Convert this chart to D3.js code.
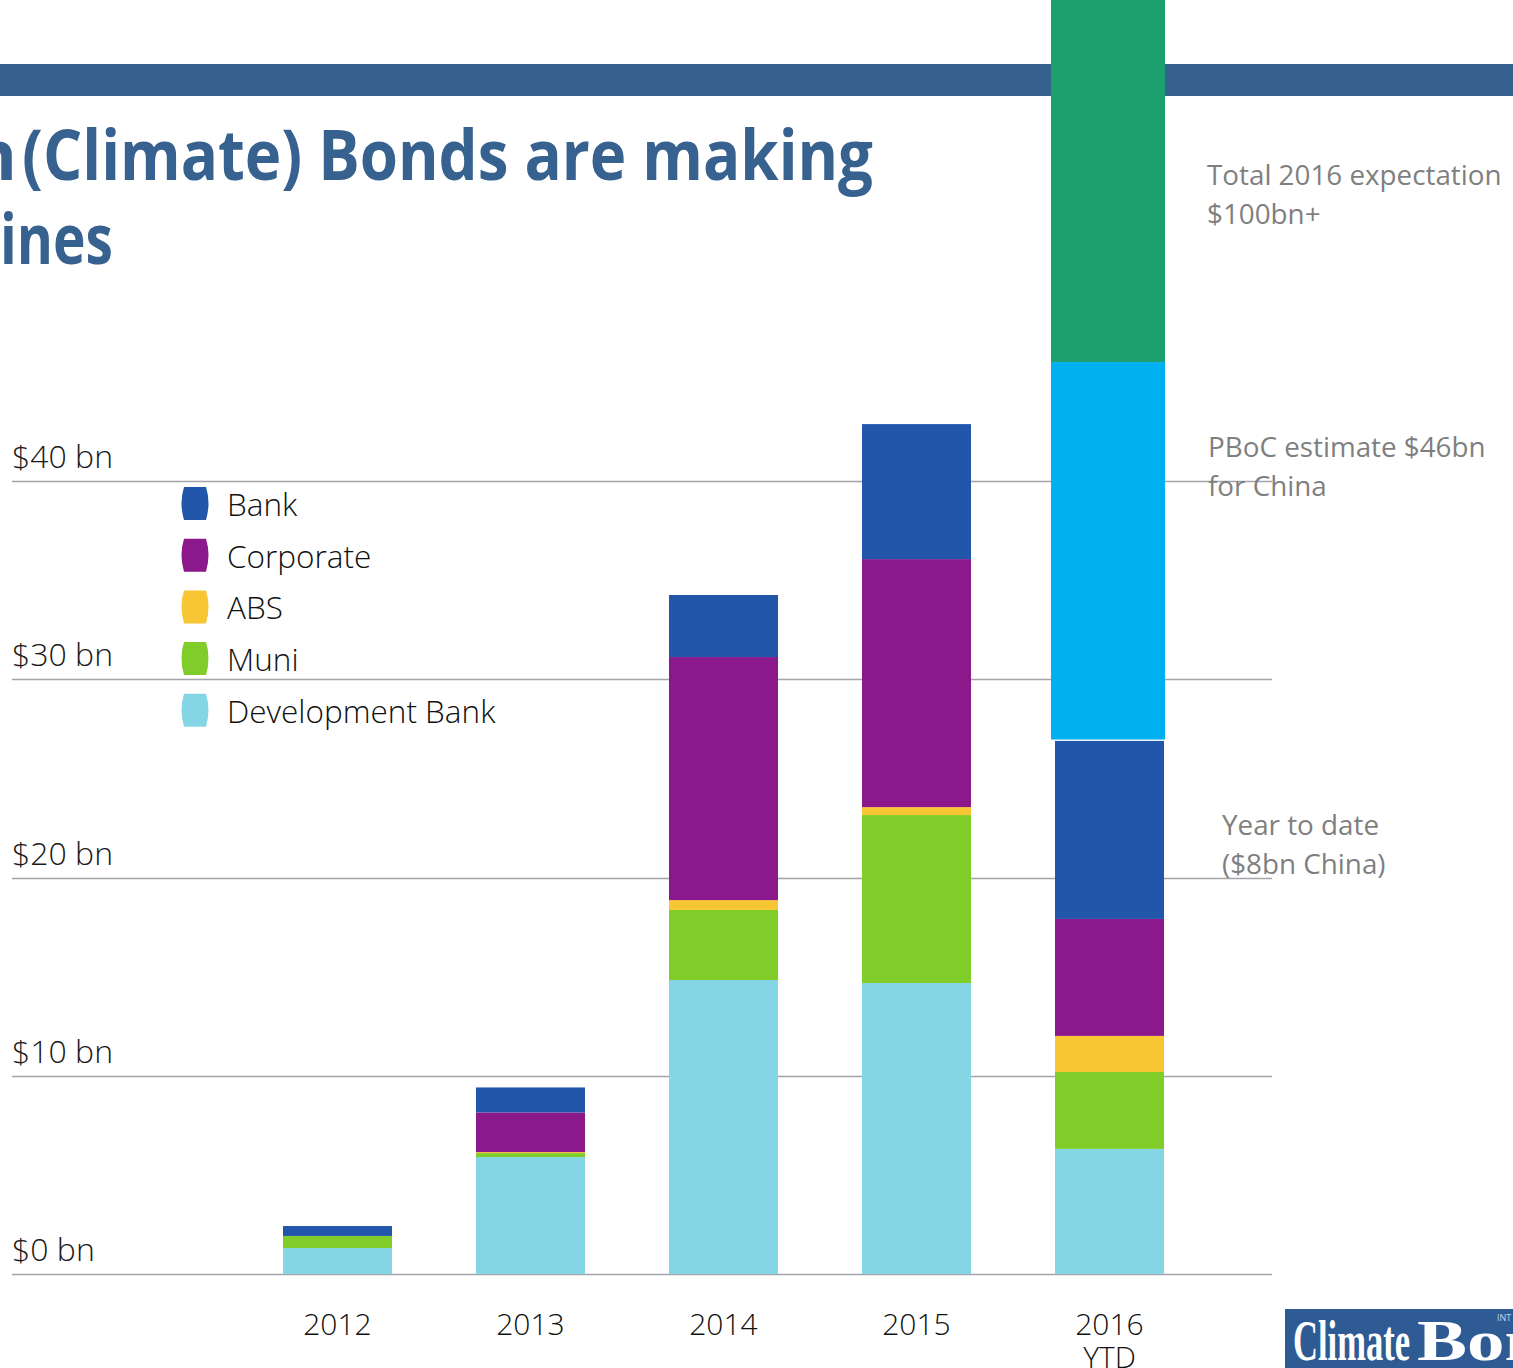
<!DOCTYPE html>
<html>
<head>
<meta charset="utf-8">
<script src="https://cdn.jsdelivr.net/npm/d3@7"></script>
<style>
  html, body { margin: 0; padding: 0; background: #fff; overflow: hidden; }
  svg { display: block; }
</style>
</head>
<body>
<div id="chart"></div>
<script>
// Green bond issuance by type, $bn
const years = ["2012", "2013", "2014", "2015", "2016"];
const series = ["Development Bank", "Muni", "ABS", "Corporate", "Bank"];
const devBank = [1.31, 5.9, 14.83, 14.68, 6.31];
const muni = [0.61, 0.2, 3.53, 8.47, 3.88];
const abs = [0, 0.05, 0.5, 0.4, 1.82];
const corporate = [0, 2.0, 12.26, 12.51, 5.9];
const bank = [0.5, 1.26, 3.13, 6.81, 8.98];

// 2016 extra estimates on top of the year to date bar
const pbocEstimate = 46;
const totalExpectation = 100;

const yTicks = [0, 10, 20, 30, 40];
const legendOrder = ["Bank", "Corporate", "ABS", "Muni", "Development Bank"];

const colors = {
    "Bank": "#2156AB",
    "Corporate": "#8C198B",
    "ABS": "#F9C633",
    "Muni": "#80CC28",
    "Development Bank": "#85D6E4",
};

const W = 1513, H = 1368;

const svg = d3.select("#chart")
    .append("svg")
    .attr("width", W)
    .attr("height", H)
    .style("font-family", "'Open Sans', 'Noto Sans', sans-serif");

const x = d3.scaleBand()
    .domain(years)
    .range([283, 1164])
    .paddingInner(84 / 193)
    .paddingOuter(0);

const y = d3.scaleLinear()
    .domain([0, 40])
    .range([1274, 481]);

// header band
svg.append("rect")
    .attr("x", 0).attr("y", 64)
    .attr("width", W).attr("height", 32)
    .attr("fill", "#36618F");

// title (cut off on the left side of the slide)
const title = svg.append("g")
    .attr("fill", "#37628F")
    .style("font-weight", 700)
    .style("font-size", "70px");

title.append("text")
    .attr("x", 17).attr("y", 180)
    .attr("text-anchor", "end")
    .text("Green");
title.append("text")
    .attr("x", 22).attr("y", 180)
    .attr("textLength", 851)
    .attr("lengthAdjust", "spacingAndGlyphs")
    .text("(Climate) Bonds are making");
title.append("text")
    .attr("x", -4).attr("y", 264)
    .attr("text-anchor", "end")
    .text("headl");
title.append("text")
    .attr("x", 0).attr("y", 264)
    .attr("textLength", 113)
    .attr("lengthAdjust", "spacingAndGlyphs")
    .text("ines");

// gridlines
svg.append("g")
    .selectAll("line")
    .data(yTicks)
    .enter()
    .append("line")
    .attr("x1", 12).attr("x2", 1272)
    .attr("y1", d => Math.round(y(d)) + 0.5)
    .attr("y2", d => Math.round(y(d)) + 0.5)
    .attr("stroke", "#A4A4AC")
    .attr("stroke-width", 1.5);

// y labels
svg.append("g")
    .selectAll("text")
    .data(yTicks)
    .enter()
    .append("text")
    .attr("x", 12)
    .attr("y", d => y(d) - 13)
    .attr("fill", "#1a1a1a")
    .style("font-size", "32px")
    .style("font-weight", 300)
    .text(d => "$" + d + " bn");

// stacked bars
const table = years.map((yr, i) => ({
    year: yr,
    "Development Bank": devBank[i],
    "Muni": muni[i],
    "ABS": abs[i],
    "Corporate": corporate[i],
    "Bank": bank[i],
}));

const stack = d3.stack().keys(series)(table);

svg.append("g")
    .selectAll("g")
    .data(stack)
    .enter()
    .append("g")
    .attr("fill", d => colors[d.key])
    .selectAll("rect")
    .data(d => d)
    .enter()
    .append("rect")
    .attr("x", d => x(d.data.year))
    .attr("width", x.bandwidth())
    .attr("y", d => y(d[1]))
    .attr("height", d => Math.max(0, y(d[0]) - y(d[1])));

// 2016 estimate bars, slightly wider than the others
const ytdTotal = stack[stack.length - 1][4][1];
const extra = [
    { from: ytdTotal + 0.07, to: pbocEstimate, color: "#00B0F0" },
    { from: pbocEstimate, to: totalExpectation, color: "#1CA06E" },
];

svg.append("g")
    .selectAll("rect")
    .data(extra)
    .enter()
    .append("rect")
    .attr("x", x("2016") - 4)
    .attr("width", x.bandwidth() + 5)
    .attr("y", d => y(d.to))
    .attr("height", d => y(d.from) - y(d.to))
    .attr("fill", d => d.color);

// x labels
const xl = svg.append("g")
    .attr("fill", "#111")
    .attr("text-anchor", "middle")
    .style("font-size", "30px")
    .style("font-weight", 300);

xl.selectAll("text")
    .data(years)
    .enter()
    .append("text")
    .attr("x", d => x(d) + x.bandwidth() / 2)
    .attr("y", 1335)
    .text(d => d);

xl.append("text")
    .attr("x", x("2016") + x.bandwidth() / 2)
    .attr("y", 1368)
    .text("YTD");

// legend
const legend = svg.append("g")
    .selectAll("g")
    .data(legendOrder)
    .enter()
    .append("g")
    .attr("transform", (d, i) => `translate(180, ${487 + i * 51.7})`);

legend.append("path")
    .attr("d", "M4,0 L26,0 Q31,16 26,33 L4,33 Q-1,16 4,0 Z")
    .attr("fill", d => colors[d]);

legend.append("text")
    .attr("x", 47)
    .attr("y", 29)
    .attr("fill", "#111")
    .style("font-size", "31.5px")
    .style("font-weight", 300)
    .text(d => d);

// annotations on the right
const notes = [
    { x: 1207, y: 185, lines: ["Total 2016 expectation", "$100bn+"] },
    { x: 1208, y: 457, lines: ["PBoC estimate $46bn", "for China"] },
    { x: 1222, y: 835, lines: ["Year to date", "($8bn China)"] },
];

const note = svg.append("g")
    .attr("fill", "#7F7F7F")
    .style("font-size", "27.8px");

notes.forEach(n => {
    n.lines.forEach((l, i) => {
        note.append("text")
            .attr("x", n.x)
            .attr("y", n.y + i * 39)
            .text(l);
    });
});

// logo corner
const logo = svg.append("g")
    .attr("fill", "#fff")
    .style("font-family", "'Liberation Serif', 'DejaVu Serif', serif")
    .style("font-weight", 700)
    .style("font-size", "58px");
logo.append("rect")
    .attr("x", 1285).attr("y", 1309)
    .attr("width", 230).attr("height", 60)
    .attr("fill", "#2F5B95");
logo.append("text")
    .attr("x", 1293).attr("y", 1360)
    .attr("textLength", 117)
    .attr("lengthAdjust", "spacingAndGlyphs")
    .text("Climate");
logo.append("text")
    .attr("x", 1417).attr("y", 1360)
    .attr("textLength", 200)
    .attr("lengthAdjust", "spacingAndGlyphs")
    .text("Bonds");
logo.append("text")
    .attr("x", 1497).attr("y", 1321)
    .attr("fill", "#c8d4e8")
    .style("font-family", "'Open Sans', sans-serif")
    .style("font-weight", 400)
    .style("font-size", "9px")
    .text("INT");
</script>
</body>
</html>
